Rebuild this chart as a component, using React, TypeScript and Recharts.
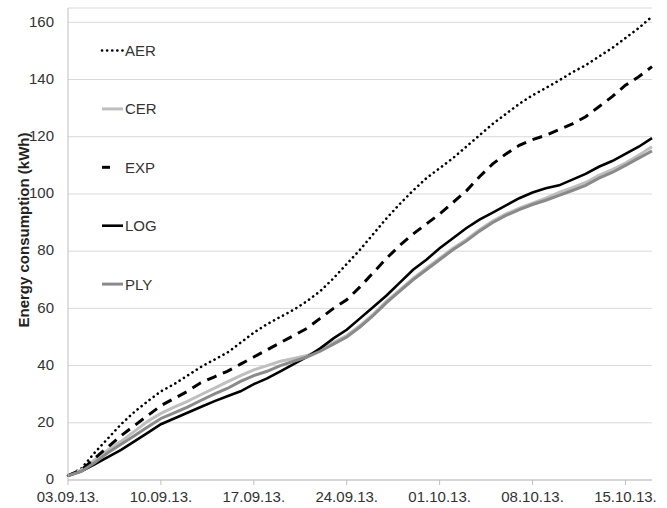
import { LineChart, Line, XAxis, YAxis, CartesianGrid } from 'recharts';

// days since 03.09.13 (one point per day)
const days = [
    0, 1, 2, 3, 4, 5, 6, 7, 8, 9, 10, 11, 12, 13, 14, 15, 16, 17, 18, 19, 20, 21, 22,
    23, 24, 25, 26, 27, 28, 29, 30, 31, 32, 33, 34, 35, 36, 37, 38, 39, 40, 41, 42, 43, 44,
];

const tickDays = [0, 7, 14, 21, 28, 35, 42];
const tickLabels = ['03.09.13.', '10.09.13.', '17.09.13.', '24.09.13.', '01.10.13.', '08.10.13.', '15.10.13.'];
const yTicks = [0, 20, 40, 60, 80, 100, 120, 140, 160];

const aer = [
    1.5, 4, 9.5, 14.5, 19.5, 23.8, 27.5, 31, 33.5, 36.5, 39.5, 42, 44.5, 48, 51.5, 54.5, 57, 59.5, 62.5, 66, 70.5, 75.5, 80.5,
    86, 91.5, 96.5, 101.2, 105.5, 109, 112.5, 116.5, 120.5, 124.5, 128, 131.5, 134.5, 137, 139.7, 142.5, 145, 148, 151, 154.5, 158, 162,
];
const cer = [
    1.5, 3.5, 7, 10.5, 13.5, 17, 20.5, 23.3, 25.5, 27.5, 29.8, 32, 34.3, 36.5, 38.5, 40, 41.5, 42.5, 43.5, 45.5, 48, 50.5, 54,
    58, 62.5, 66.5, 70.5, 74, 77.5, 81, 84, 87.5, 90.5, 93, 95, 96.8, 98.5, 100.5, 102.2, 104, 106.5, 108.5, 110.8, 113.5, 116.5,
];
const exp = [
    1.5, 3.5, 7.5, 11.5, 15.5, 19, 22.5, 26, 28.5, 31, 34, 36, 38, 40.5, 43, 45.5, 48, 50.5, 53, 56.5, 60, 63, 67.5,
    72.5, 77.5, 82, 86, 89.5, 93, 97, 101, 106, 110.5, 114, 117, 119, 120.5, 122.5, 124.5, 127, 130.5, 134, 138, 141, 144.5,
];
const log = [
    1.5, 3, 5.5, 8, 10.5, 13.5, 16.5, 19.5, 21.5, 23.5, 25.5, 27.5, 29.3, 31, 33.5, 35.5, 38, 40.5, 43, 46, 49.5, 52.5, 56.5,
    60.5, 64.5, 69, 73.5, 77, 81, 84.5, 88, 91, 93.5, 96, 98.5, 100.5, 102, 103, 105, 107, 109.5, 111.5, 114, 116.5, 119.5,
];
const ply = [
    1.5, 3, 6, 9.5, 12.5, 15.5, 18.5, 21.5, 23.5, 25.5, 27.8, 30, 32, 34.5, 36.5, 38, 40, 41.5, 43, 45, 47.5, 50, 53.5,
    57.5, 62, 66, 70, 73.5, 77, 80.5, 83.5, 87, 90, 92.5, 94.5, 96.3, 97.8, 99.5, 101.2, 103, 105.5, 107.5, 110, 112.5, 115,
];

const data = days.map((day, i) => ({
    day,
    AER: aer[i],
    CER: cer[i],
    EXP: exp[i],
    LOG: log[i],
    PLY: ply[i],
}));

const FONT = '"Liberation Sans", Arial, sans-serif';

const series = [
    { key: 'AER', stroke: '#000000', width: 2.6, dash: '0.1 5', cap: 'round' as const },
    { key: 'CER', stroke: '#bfbfbf', width: 3, dash: undefined, cap: 'butt' as const },
    { key: 'EXP', stroke: '#000000', width: 3, dash: '10 7', cap: 'butt' as const },
    { key: 'LOG', stroke: '#000000', width: 2.6, dash: undefined, cap: 'butt' as const },
    { key: 'PLY', stroke: '#8a8a8a', width: 3, dash: undefined, cap: 'butt' as const },
];

function ChartLegend() {
    return (
        <svg width={667} height={508} style={{ position: 'absolute', left: 0, top: 0, pointerEvents: 'none' }}>
            {series.map((s, i) => {
                const y = 50.5 + i * 58.4;
                const x2 = s.key === 'EXP' ? 110 : 123;
                return (
                    <g key={s.key}>
                        <line x1={102} y1={y} x2={x2} y2={y} stroke={s.stroke} strokeWidth={s.width}
                            strokeDasharray={s.key === 'EXP' ? undefined : s.dash} strokeLinecap={s.cap} />
                        <text x={125} y={y + 5.5} fontSize={15} fontFamily={FONT} fill="#333">{s.key}</text>
                    </g>
                );
            })}
        </svg>
    );
}

export default function App() {
    return (
        <div style={{ position: 'absolute', left: 0, top: 0, width: 667, height: 508, background: '#fff' }}>
            <LineChart width={667} height={508} data={data} margin={{ top: 8, right: 15, bottom: 0, left: 0 }}>
                <CartesianGrid vertical={false} stroke="#d9d9d9" />
                <XAxis
                    dataKey="day"
                    type="number"
                    domain={[0, 44]}
                    ticks={tickDays}
                    tickFormatter={(v) => tickLabels[tickDays.indexOf(v)] ?? ''}
                    axisLine={{ stroke: '#bfbfbf' }}
                    tickLine={{ stroke: '#bfbfbf' }}
                    tickSize={5}
                    tickMargin={6}
                    height={28}
                    interval={0}
                    tick={{ fontSize: 15, fill: '#333', fontFamily: FONT }}
                />
                <YAxis
                    domain={[0, 165]}
                    ticks={yTicks}
                    axisLine={{ stroke: '#bfbfbf' }}
                    tickLine={false}
                    tickMargin={8}
                    width={68}
                    interval={0}
                    tick={{ fontSize: 15, fill: '#333', fontFamily: FONT, dy: -1 }}
                    label={{
                        content: () => (
                            <text x={23} y={230} transform="rotate(-90, 23, 230)" textAnchor="middle"
                                dominantBaseline="central" fontSize={15} fontWeight="bold" fontFamily={FONT} fill="#222">
                                Energy consumption (kWh)
                            </text>
                        ),
                    }}
                />
                {series.map((s) => (
                    <Line
                        key={s.key}
                        type="linear"
                        dataKey={s.key}
                        stroke={s.stroke}
                        strokeWidth={s.width}
                        strokeDasharray={s.dash}
                        strokeLinecap={s.cap}
                        dot={false}
                        activeDot={false}
                        isAnimationActive={false}
                    />
                ))}
            </LineChart>
            <ChartLegend />
        </div>
    );
}
